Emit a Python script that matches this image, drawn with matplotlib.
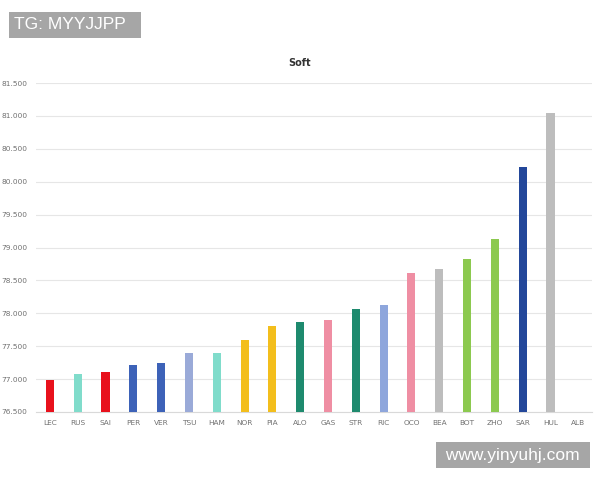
import matplotlib
matplotlib.use('Agg')
import matplotlib.pyplot as plt
from matplotlib.ticker import FuncFormatter

# driver codes and their values (ALB has no bar)
drivers = ['LEC', 'RUS', 'SAI', 'PER', 'VER', 'TSU', 'HAM', 'NOR', 'PIA', 'ALO',
           'GAS', 'STR', 'RIC', 'OCO', 'BEA', 'BOT', 'ZHO', 'SAR', 'HUL', 'ALB']
values = [76.99, 77.08, 77.11, 77.22, 77.24, 77.40, 77.40, 77.60, 77.81, 77.87,
          77.90, 78.07, 78.13, 78.61, 78.67, 78.82, 79.13, 80.22, 81.05, None]
team_colors = ['#e8111c', '#80dccb', '#e8111c', '#3d62b8', '#3d62b8', '#9aaad8',
               '#80dccb', '#f3be1c', '#f3be1c', '#1e8a6e', '#ef8ea3', '#1e8a6e',
               '#8ea6dc', '#ef8ea3', '#bdbdbd', '#8cc94f', '#8cc94f', '#23479a',
               '#bdbdbd', '#bdbdbd']
yticks = [76.5, 77.0, 77.5, 78.0, 78.5, 79.0, 79.5, 80.0, 80.5, 81.0, 81.5]

fig = plt.figure(figsize=(6, 4.8), dpi=100)
ax = fig.add_axes([0.06, 0.1417, 0.927, 0.6853])

ymin = 76.5
for i, (v, c) in enumerate(zip(values, team_colors)):
    if v is None:
        continue
    ax.bar(i, v - ymin, bottom=ymin, width=0.29, color=c, zorder=3)

ax.set_xlim(-0.5, len(drivers) - 0.5)
ax.set_ylim(76.5, 81.5)
ax.set_yticks(yticks)
ax.yaxis.set_major_formatter(FuncFormatter(lambda v, p: f'{v:.3f}'))
ax.set_xticks(range(len(drivers)))
ax.set_xticklabels(drivers)
ax.tick_params(axis='both', length=0, labelsize=5.3, colors='#707070', pad=6)
ax.tick_params(axis='y', pad=6)
ax.grid(axis='y', color='#e6e6e6', linewidth=0.8, zorder=0)
for s in ['top', 'right', 'left']:
    ax.spines[s].set_visible(False)
ax.spines['bottom'].set_color('#d9d9d9')
ax.spines['bottom'].set_linewidth(0.8)

fig.text(0.5, 0.868, 'Soft', ha='center', va='center', fontsize=7,
         fontweight='bold', color='#333333')

# watermark boxes
fig.text(0.024, 0.948, 'TG: MYYJJPP  ', ha='left', va='center', fontsize=12.5,
         family='Liberation Sans', color='white',
         bbox=dict(boxstyle='square,pad=0.3', fc='#a6a6a6', ec='none'))
fig.text(0.974, 0.052, ' www.yinyuhj.com ', ha='right', va='center', fontsize=12.5,
         family='Liberation Sans', color='white',
         bbox=dict(boxstyle='square,pad=0.3', fc='#a6a6a6', ec='none'))

fig.savefig('out.png', dpi=100)
